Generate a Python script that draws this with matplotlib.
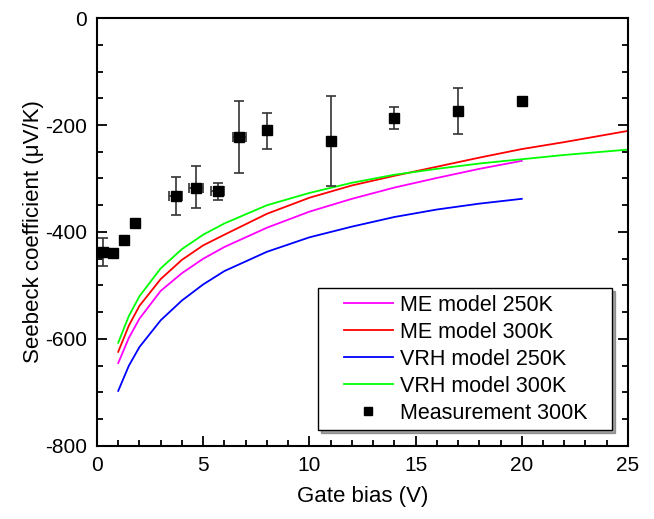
import matplotlib
matplotlib.use("Agg")
import matplotlib.pyplot as plt
from matplotlib.ticker import MultipleLocator
from matplotlib.lines import Line2D
from matplotlib.legend_handler import HandlerLine2D

plt.rcParams['font.family'] = ['Liberation Sans', 'DejaVu Sans']
plt.rcParams['font.size'] = 15
plt.rcParams['axes.unicode_minus'] = False

# model curves
x_model = [1, 1.5, 2, 3, 4, 5, 6, 8, 10, 12, 14, 16, 18, 20]
x_model_long = [1, 1.5, 2, 3, 4, 5, 6, 8, 10, 12, 14, 16, 18, 20, 22, 25]
me_250 = [-645, -598, -562, -510, -477, -450, -428, -392, -362, -338, -317, -299, -282, -267]
me_300 = [-624, -575, -538, -488, -452, -425, -405, -366, -336, -313, -295, -278, -261, -245, -232, -211]
vrh_250 = [-697, -650, -615, -565, -528, -498, -473, -437, -410, -390, -372, -358, -347, -338]
vrh_300 = [-607, -557, -520, -468, -432, -405, -384, -350, -327, -308, -293, -282, -272, -264, -256, -246]

# measurement 300K
x_meas = [0.27, 0.77, 1.27, 1.79, 3.7, 4.68, 5.68, 6.7, 8.0, 11.0, 14.0, 17.0, 20.0]
y_meas = [-437, -440, -415, -384, -332, -317, -323, -223, -210, -229, -186, -173, -155]
err_lo = [27, 0, 0, 0, 36, 39, 18, 67, 34, 85, 22, 43, 5]
err_hi = [26, 0, 0, 0, 35, 41, 15, 68, 33, 83, 20, 42, 5]
xerr = [0.1, 0, 0, 0, 0.3, 0.33, 0.3, 0.3, 0, 0, 0, 0, 0.1]

labels = ['ME model 250K', 'ME model 300K', 'VRH model 250K', 'VRH model 300K',
          'Measurement 300K   ']

fig = plt.figure(figsize=(6.54, 5.19), dpi=100)
ax = fig.add_axes([0.1483, 0.1407, 0.8119, 0.8246])

l1, = ax.plot(x_model, me_250, color='#ff00ff', lw=1.3)
l2, = ax.plot(x_model_long, me_300, color='#ff0000', lw=1.3)
l3, = ax.plot(x_model, vrh_250, color='#0000ff', lw=1.3)
l4, = ax.plot(x_model_long, vrh_300, color='#00ff00', lw=1.3)
ax.errorbar(x_meas, y_meas, yerr=[err_lo, err_hi], xerr=xerr, fmt='s', color='black',
            ecolor='#333333', elinewidth=1.2, capsize=3.5, capthick=1.2, ms=7)
meas_handle = Line2D([], [], ls='none', marker='s', color='black', ms=6)

ax.set_xlim(0, 25)
ax.set_ylim(-800, 0)
ax.xaxis.set_major_locator(MultipleLocator(5))
ax.xaxis.set_minor_locator(MultipleLocator(1))
ax.yaxis.set_major_locator(MultipleLocator(200))
ax.yaxis.set_minor_locator(MultipleLocator(50))
ax.tick_params(which='both', direction='in', right=True, top=False, width=1.3)
ax.tick_params(which='major', length=7, labelsize=15, pad=7)
ax.tick_params(which='minor', length=4)
for s in ax.spines.values():
    s.set_linewidth(1.5)

ax.set_xlabel('Gate bias (V)', fontsize=16, labelpad=8)
ax.set_ylabel('Seebeck coefficient (\u03bcV/K)', fontsize=16, labelpad=1)

hmap = {h: HandlerLine2D(xpad=0.9) for h in [l1, l2, l3, l4, meas_handle]}
leg = ax.legend([l1, l2, l3, l4, meas_handle], labels, handler_map=hmap,
                loc='lower right', bbox_to_anchor=(0.97, 0.037),
                borderaxespad=0, fancybox=False, shadow=True, edgecolor='black',
                fontsize=15.5, handlelength=3.19, labelspacing=0.28, handletextpad=0.33,
                borderpad=0.3)
leg.get_frame().set_linewidth(1.0)

fig.savefig('out.png', dpi=100)
